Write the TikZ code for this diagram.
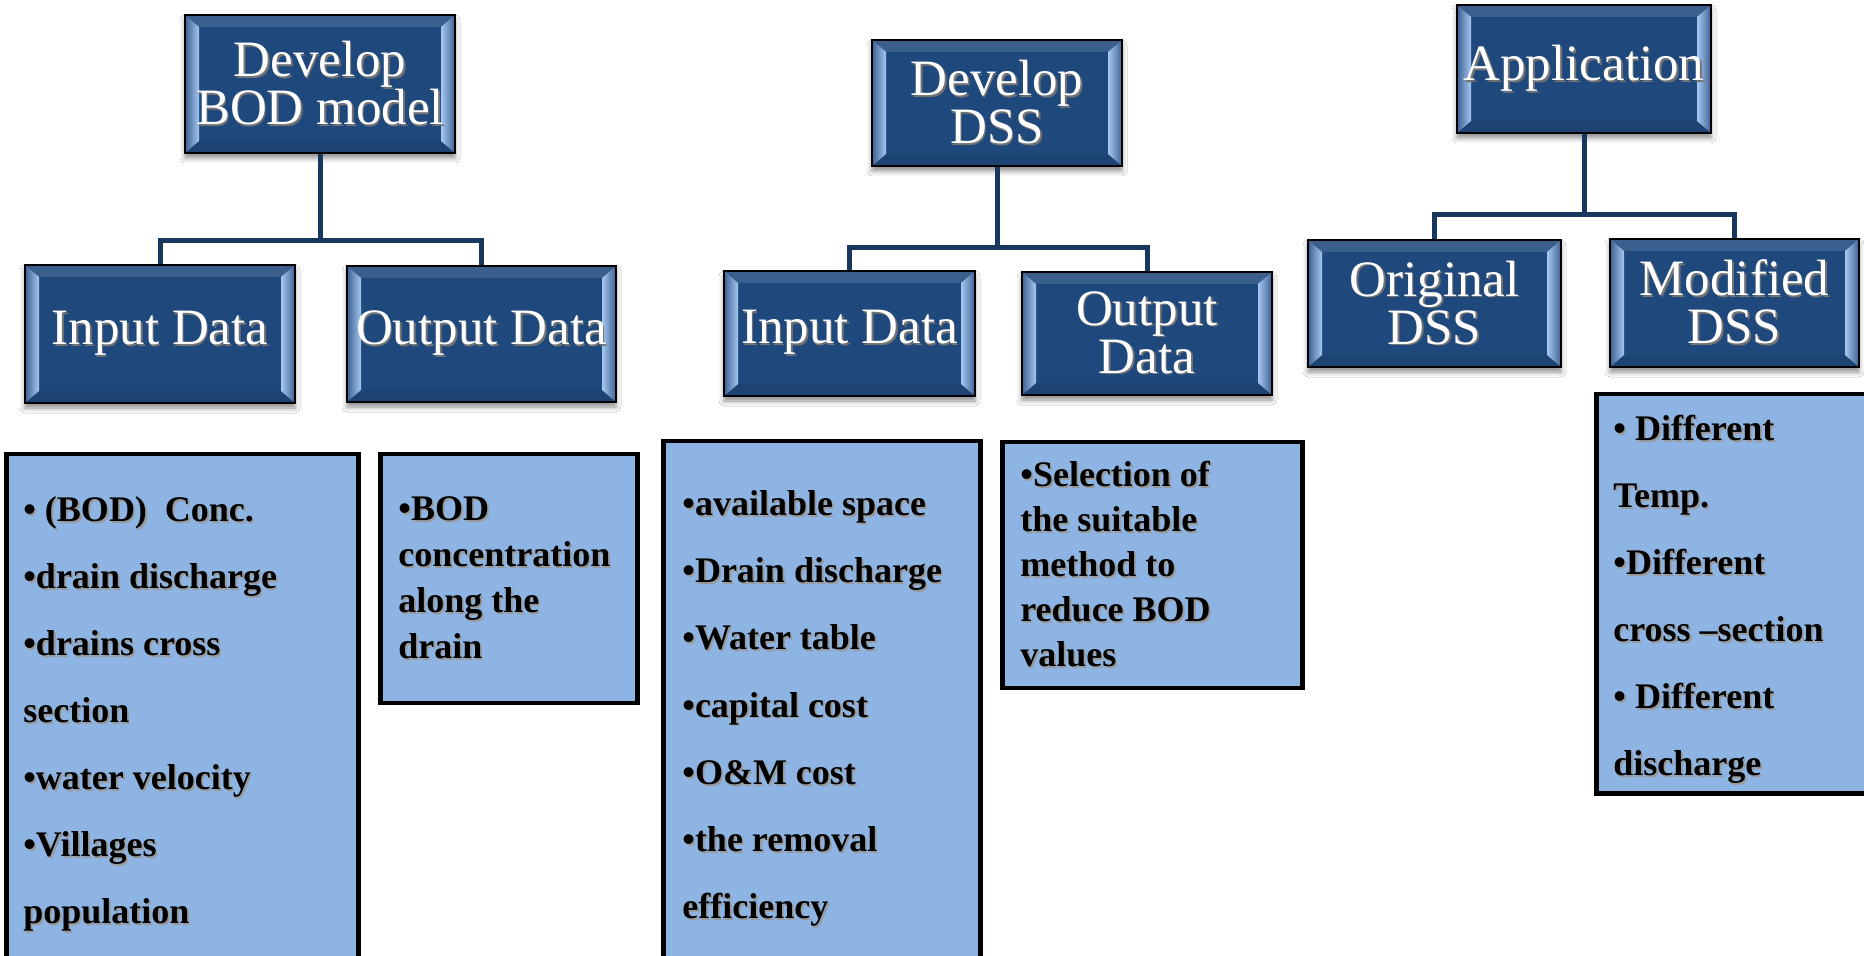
\documentclass[tikz,border=0pt]{standalone}
\usepackage{fontspec}
\setmainfont{Liberation Serif}
\usetikzlibrary{calc,shadows.blur}

\definecolor{boxblue}{RGB}{31,73,125}
\definecolor{linkblue}{RGB}{23,55,94}
\definecolor{listblue}{RGB}{141,180,226}
\definecolor{bevlight}{RGB}{165,200,240}
\definecolor{bevdark}{RGB}{62,96,146}

% text with a soft offset shadow
\newcommand\dropsh[1]{\leavevmode\rlap{\kern0.9pt\raisebox{-0.9pt}{\textcolor{black!40}{#1}}}#1}
\newcommand\wsh[1]{\leavevmode\rlap{\kern0.8pt\raisebox{-0.8pt}{\textcolor{black!55}{#1}}}#1}
\newcommand\firstln{\rule{0pt}{14pt}}

\tikzset{
  headbox/.style={draw=black, line width=0.6pt, fill=boxblue, text=white,
    font=\fontsize{25.5}{24}\selectfont, align=center, inner sep=0pt,
    blur shadow={shadow xshift=0pt, shadow yshift=-2.5pt, shadow blur radius=2.5pt, shadow opacity=45},
    path picture={
      \coordinate (bsw) at (path picture bounding box.south west);
      \coordinate (bne) at (path picture bounding box.north east);
      \coordinate (bnw) at (bsw |- bne);
      \coordinate (bse) at (bne |- bsw);
      \fill[boxblue!88!white] (bnw) -- ($(bnw)+(7pt,-6pt)$) -- ($(bne)+(-7pt,-6pt)$) -- (bne) -- cycle;
      \fill[boxblue!92!black] (bsw) -- ($(bsw)+(7pt,6pt)$) -- ($(bse)+(-7pt,6pt)$) -- (bse) -- cycle;
      \shade[left color=bevdark, right color=bevlight] (bsw) -- ($(bsw)+(7pt,6pt)$) -- ($(bnw)+(7pt,-6pt)$) -- (bnw) -- cycle;
      \shade[left color=bevlight, right color=bevdark] (bse) -- ($(bse)+(-7pt,6pt)$) -- ($(bne)+(-7pt,-6pt)$) -- (bne) -- cycle;
    }},
  listbox/.style={draw=black, line width=2.25pt, fill=listblue, inner sep=0pt, anchor=north west},
  listtext/.style={anchor=north west, inner sep=0pt, align=left, text=black},
  conn/.style={draw=linkblue, line width=2.5pt}
}

\begin{document}
\begin{tikzpicture}[x=0.5pt, y=-0.5pt]
\useasboundingbox (0,0) rectangle (1864,956);
\fill[white] (0,0) rectangle (1864,956);

% ---- BOD model branch ----
\node[headbox, minimum width=135pt, minimum height=69pt] (bod) at (320,84) {\wsh{Develop}\\\wsh{BOD model}};
\node[headbox, minimum width=135pt, minimum height=69pt] (in1) at (160,334) {\wsh{Input Data}};
\node[headbox, minimum width=134.5pt, minimum height=68pt] (out1) at (481.5,334) {\wsh{Output Data}};

% ---- DSS branch ----
\node[headbox, minimum width=125pt, minimum height=63pt] (dss) at (997,103) {\wsh{Develop}\\\wsh{DSS}};
\node[headbox, minimum width=125.5pt, minimum height=62.5pt] (in2) at (849.5,333.5) {\wsh{Input Data}};
\node[headbox, minimum width=125pt, minimum height=61.5pt] (out2) at (1147,333.5) {\wsh{Output}\\\wsh{Data}};

% ---- Application branch ----
\node[headbox, minimum width=127pt, minimum height=64pt] (app) at (1584,69) {\wsh{Application}};
\node[headbox, minimum width=126.5pt, minimum height=63.5pt] (orig) at (1434.5,303.5) {\wsh{Original}\\\wsh{DSS}};
\node[headbox, minimum width=124.5pt, minimum height=64pt] (mod) at (1734.5,303) {\wsh{Modified}\\\wsh{DSS}};

% ---- connectors ----
\coordinate (j1) at (320,241);
\coordinate (j2) at (997,248);
\coordinate (j3) at (1584,215);
\draw[conn] (bod.south) -- (j1);
\draw[conn] (in1.north) |- (j1) -| (out1.north);
\draw[conn] (dss.south) -- (j2);
\draw[conn] (in2.north) |- (j2) -| (out2.north);
\draw[conn] (app.south) -- (j3);
\draw[conn] (orig.north) |- (j3) -| (mod.north);

% ---- detail lists ----
\node[listbox, minimum width=176pt, minimum height=264pt] (l1) at (4,452) {};
\node[listtext, font=\bfseries\fontsize{18}{33.5}\selectfont] (l1t) at (23,493)
  {\firstln\dropsh{• (BOD)~ Conc.}\\ \dropsh{•drain discharge}\\ \dropsh{•drains cross}\\ \dropsh{section}\\
   \dropsh{•water velocity}\\ \dropsh{•Villages}\\ \dropsh{population}};

\node[listbox, minimum width=128.5pt, minimum height=124.5pt] (l2) at (378,452) {};
\node[listtext, font=\bfseries\fontsize{18}{23}\selectfont] (l2t) at (398,492)
  {\firstln\dropsh{•BOD}\\ \dropsh{concentration}\\ \dropsh{along the}\\ \dropsh{drain}};

\node[listbox, minimum width=158.5pt, minimum height=270.5pt] (l3) at (661,439) {};
\node[listtext, font=\bfseries\fontsize{18}{33.6}\selectfont] (l3t) at (682,487)
  {\firstln\dropsh{•available space}\\ \dropsh{•Drain discharge}\\ \dropsh{•Water table}\\ \dropsh{•capital cost}\\
   \dropsh{•O\&M cost}\\ \dropsh{•the removal}\\ \dropsh{efficiency}};

\node[listbox, minimum width=150pt, minimum height=123pt] (l4) at (1000,440) {};
\node[listtext, font=\bfseries\fontsize{18}{22.5}\selectfont] (l4t) at (1020,458)
  {\firstln\dropsh{•Selection of}\\ \dropsh{the suitable}\\ \dropsh{method to}\\ \dropsh{reduce BOD}\\ \dropsh{values}};

\node[listbox, minimum width=143pt, minimum height=199.5pt] (l5) at (1594,392) {};
\node[listtext, font=\bfseries\fontsize{18}{33.5}\selectfont] (l5t) at (1613,412)
  {\firstln\dropsh{• Different}\\ \dropsh{Temp.}\\ \dropsh{•Different}\\ \dropsh{cross –section}\\
   \dropsh{• Different}\\ \dropsh{discharge}};
\end{tikzpicture}
\end{document}
